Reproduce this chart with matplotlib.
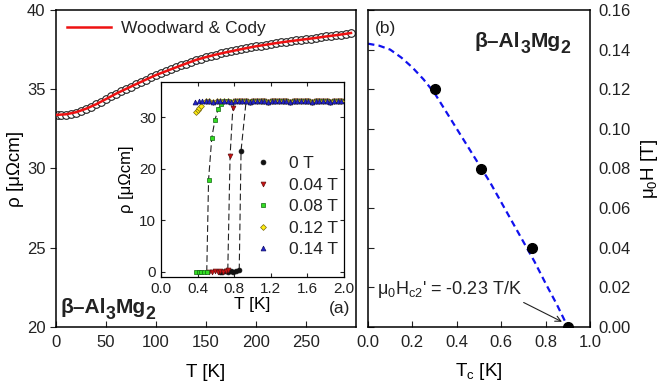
import numpy as np
import matplotlib.pyplot as plt

plt.rcParams['font.family'] = ['Liberation Sans', 'DejaVu Sans']
plt.rcParams['mathtext.fontset'] = 'custom'
plt.rcParams['mathtext.rm'] = 'Liberation Sans'
plt.rcParams['mathtext.default'] = 'regular'
plt.rcParams['axes.linewidth'] = 1.1
plt.rcParams['text.color'] = '#222222'
plt.rcParams['xtick.color'] = '#222222'
plt.rcParams['ytick.color'] = '#222222'

# main panel: resistivity vs T
T_data = [2, 5, 10, 15, 20, 25, 30, 35, 40, 45, 50, 55, 60, 65, 70, 75, 80, 85, 90, 95,
          100, 105, 110, 115, 120, 125, 130, 135, 140, 145, 150, 155, 160, 165, 170, 175,
          180, 185, 190, 195, 200, 205, 210, 215, 220, 225, 230, 235, 240, 245, 250, 255,
          260, 265, 270, 275, 280, 285, 290, 295]
rho_data = [33.36, 33.37, 33.40, 33.46, 33.53, 33.64, 33.77, 33.91, 34.06, 34.22, 34.39,
            34.56, 34.72, 34.87, 35.02, 35.17, 35.32, 35.47, 35.61, 35.76, 35.90, 36.02,
            36.14, 36.26, 36.38, 36.50, 36.62, 36.74, 36.85, 36.94, 37.03, 37.11, 37.19,
            37.26, 37.33, 37.40, 37.46, 37.53, 37.59, 37.65, 37.71, 37.76, 37.81, 37.86,
            37.91, 37.96, 38.00, 38.04, 38.08, 38.12, 38.16, 38.20, 38.24, 38.29, 38.33,
            38.37, 38.41, 38.45, 38.50, 38.55]
T_fit = [0, 10, 20, 30, 40, 50, 60, 70, 80, 90, 100, 110, 120, 130, 140, 150, 160, 170,
         180, 190, 200, 210, 220, 230, 240, 250, 260, 270, 280, 290, 295]
rho_fit = [33.38, 33.42, 33.55, 33.77, 34.05, 34.38, 34.72, 35.02, 35.32, 35.61, 35.90,
           36.14, 36.38, 36.62, 36.85, 37.03, 37.19, 37.33, 37.46, 37.59, 37.71, 37.81,
           37.91, 38.00, 38.08, 38.16, 38.24, 38.33, 38.41, 38.50, 38.55]

# inset: low-T transitions
t_plateau = [0.37, 0.41, 0.45, 0.49, 0.53, 0.57, 0.61, 0.65, 0.69, 0.73, 0.77, 0.81, 0.85,
             0.89, 0.93, 0.97, 1.01, 1.05, 1.09, 1.13, 1.17, 1.21, 1.25, 1.29, 1.33, 1.37,
             1.41, 1.45, 1.49, 1.53, 1.57, 1.61, 1.65, 1.69, 1.73, 1.77, 1.81, 1.85, 1.89,
             1.93, 1.97]
rho_plateau = [33.0, 33.1, 33.1, 33.2, 33.1, 33.0, 33.1, 33.2, 33.1, 33.1, 33.0, 33.1, 33.2,
               33.1, 33.1, 33.0, 33.1, 33.1, 33.2, 33.1, 33.0, 33.1, 33.1, 33.1, 33.2, 33.1,
               33.0, 33.1, 33.1, 33.2, 33.1, 33.1, 33.0, 33.1, 33.1, 33.2, 33.1, 33.0, 33.1,
               33.1, 33.1]

fields = ['0 T', '0.04 T', '0.08 T', '0.12 T', '0.14 T']
t_trans = [[0.64, 0.67, 0.70, 0.73, 0.76, 0.79, 0.82, 0.855, 0.875],
           [0.53, 0.56, 0.59, 0.62, 0.65, 0.68, 0.71, 0.73, 0.755, 0.785],
           [0.38, 0.41, 0.44, 0.47, 0.50, 0.52, 0.555, 0.59, 0.625, 0.66],
           [0.383, 0.40, 0.42, 0.44],
           []]
rho_trans = [[0.0, -0.1, 0.1, 0.0, 0.1, 0.0, 0.1, 0.3, 23.5],
             [-0.1, 0.0, 0.1, 0.0, 0.1, 0.0, 0.1, 0.3, 22.5, 31.7],
             [0.0, 0.0, 0.0, 0.0, 0.0, 17.9, 26.0, 29.5, 31.5, 32.6],
             [31.0, 31.4, 31.8, 32.2],
             []]
onsets = [0.92, 0.80, 0.69, 0.48, 0.37]
guide_start = [7, 7, 4, None, None]   # dashed guide from last point at rho~0

# right panel: Hc2(T)
Tc_pts = [0.30, 0.51, 0.74, 0.90]
H_pts = [0.12, 0.08, 0.04, 0.0]
Tc_curve = [0.0, 0.05, 0.1, 0.15, 0.2, 0.25, 0.3, 0.35, 0.4, 0.45, 0.5, 0.55, 0.6, 0.65,
            0.7, 0.75, 0.8, 0.85, 0.9]
H_curve = [0.143, 0.142, 0.140, 0.136, 0.131, 0.125, 0.118, 0.109, 0.100, 0.091, 0.082,
           0.073, 0.063, 0.053, 0.043, 0.033, 0.022, 0.0115, 0.0]

fig = plt.figure(figsize=(6.59, 3.92), dpi=100)
W, H = 659, 392
renderer = fig.canvas.get_renderer()

def px_axes(x0, y0, x1, y1):
    return fig.add_axes([x0 / W, 1 - y1 / H, (x1 - x0) / W, (y1 - y0) / H])

def formula(x0, y0, size=15):
    # bold compound name, with large subscripts; x0, y0 = left/baseline in pixels from top-left
    parts = [('β–Al', 1.0, 0), ('3', 0.85, 6), ('Mg', 1.0, 0), ('2', 0.85, 6)]
    x = x0
    for s, sc, dy in parts:
        t = fig.text(x / W, 1 - (y0 + dy) / H, s, fontsize=size * sc, fontweight='bold',
                     va='baseline', ha='left')
        bb = t.get_window_extent(renderer)
        x += bb.width

# ---- left panel
ax = px_axes(56, 10, 356, 327)
ax.plot(T_data, rho_data, 'o', ms=5.5, mfc='white', mec='#222222', mew=0.8, zorder=2)
ax.plot(T_fit, rho_fit, color='#ee1111', lw=1.8, label='Woodward & Cody', zorder=3)
ax.set_xlim(0, 300)
ax.set_ylim(20, 40)
ax.set_xticks([0, 50, 100, 150, 200, 250])
ax.set_yticks([20, 25, 30, 35, 40])
ax.tick_params(axis='x', direction='in', length=4, labelsize=12, pad=6)
ax.tick_params(axis='y', direction='out', length=4, labelsize=12)
ax.set_xlabel('T [K]', fontsize=13.5, labelpad=10)
ax.set_ylabel('ρ [μΩcm]', fontsize=13.5, labelpad=2)
ax.legend(loc='upper left', frameon=False, fontsize=12.5, handlelength=2.5,
          handletextpad=0.6, borderaxespad=0.25)
ax.text(284, 21.15, '(a)', fontsize=12.5, ha='center', va='center')
formula(60, 313)

# ---- inset
axi = px_axes(161, 82, 344, 277)
styles = [dict(marker='o', color='#111111', mec='#111111', ms=3.5),
          dict(marker='v', color='#cc1111', mec='#661111', ms=3.5),
          dict(marker='s', color='#33dd22', mec='#116611', ms=3.2),
          dict(marker='D', color='#ffee11', mec='#776611', ms=3.0),
          dict(marker='^', color='#2222cc', mec='#111166', ms=3.5)]
for i in range(len(fields)):
    tp = [t for t in t_plateau if t >= onsets[i]]
    rp = [r for t, r in zip(t_plateau, rho_plateau) if t >= onsets[i]]
    if guide_start[i] is not None:
        g = guide_start[i]
        axi.plot(t_trans[i][g:] + tp[:1], rho_trans[i][g:] + rp[:1], color='#222222',
                 lw=0.8, dashes=(6, 3), zorder=1)
    axi.plot(t_trans[i] + tp, rho_trans[i] + rp, ls='none', mew=0.5, label=fields[i],
             zorder=2 + i, **styles[i])
axi.set_xlim(0, 2.0)
axi.set_ylim(-1, 36.8)
axi.set_xticks([0.0, 0.4, 0.8, 1.2, 1.6, 2.0])
axi.set_xticklabels(['0.0', '0.4', '0.8', '1.2', '1.6', '2.0'])
axi.set_yticks([0, 10, 20, 30])
axi.tick_params(direction='in', length=3, labelsize=11, top=True, right=True, width=0.8)
for s in axi.spines.values():
    s.set_linewidth(0.9)
axi.set_xlabel('T [K]', fontsize=12.5, labelpad=1)
axi.set_ylabel('ρ [μΩcm]', fontsize=12, labelpad=4)
axi.legend(loc='upper left', bbox_to_anchor=(0.47, 0.655), frameon=False, fontsize=12.5,
           handlelength=1.0, handletextpad=1.0, labelspacing=0.36, borderaxespad=0)

# ---- right panel
axr = px_axes(368, 10, 590, 327)
axr.plot(Tc_curve, H_curve, color='#1111ee', lw=1.6, dashes=(2.9, 1.9), zorder=2)
axr.plot(Tc_pts, H_pts, 'o', color='black', ms=7, zorder=3)
axr.set_xlim(0, 1.0)
axr.set_ylim(0, 0.16)
axr.set_xticks([0.0, 0.2, 0.4, 0.6, 0.8, 1.0])
axr.set_xticklabels(['0.0', '0.2', '0.4', '0.6', '0.8', '1.0'])
axr.set_yticks(np.arange(0, 0.161, 0.02))
axr.set_yticklabels(['0.00', '0.02', '0.04', '0.06', '0.08', '0.10', '0.12', '0.14', '0.16'])
axr.tick_params(axis='x', direction='in', length=4, labelsize=12, pad=6)
axr.tick_params(axis='y', direction='in', length=4, labelsize=12, left=True, right=False,
                labelleft=False, labelright=True, pad=6)
axr.yaxis.set_label_position('right')
axr.set_ylabel('μ$_0$H [T]', fontsize=13.5, labelpad=6, rotation=90)
axr.set_xlabel('T$_c$ [K]', fontsize=13.5, labelpad=8)
axr.text(0.03, 0.943, '(b)', transform=axr.transAxes, fontsize=12.5, va='center')
formula(475, 46.7)
axr.annotate('', xy=(0.885, 0.002), xytext=(0.69, 0.013),
             arrowprops=dict(arrowstyle='->', color='#222222', lw=0.8))
axr.text(0.04, 0.019, "μ$_0$H$_{c2}$' = -0.23 T/K", fontsize=13, va='center')

fig.savefig('out.png', dpi=100)
